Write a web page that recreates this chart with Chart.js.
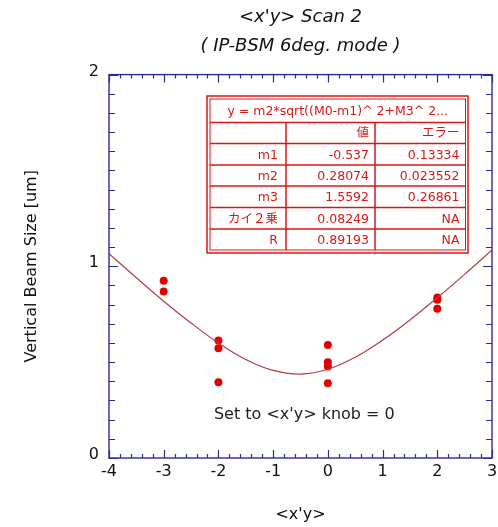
<!DOCTYPE html>
<html>
<head>
<meta charset="utf-8">
<script src="https://cdn.jsdelivr.net/npm/chart.js@4"></script>
<style>
  html, body { margin: 0; padding: 0; background: #fff; }
  #wrap { width: 498px; height: 527px; }
</style>
</head>
<body>
<div id="wrap"><canvas id="scan-chart"></canvas></div>
<script>
// measured beam size
var measX = [-3, -3, -2, -2, -2, 0, 0, 0, 0, 2, 2, 2];
var measY = [0.925, 0.868, 0.613, 0.573, 0.395, 0.590, 0.500, 0.477, 0.390, 0.837, 0.825, 0.778];

// fitted curve
var fitX = [-4, -3.5, -3, -2.5, -2, -1.5, -1, -0.5, 0, 0.5, 1, 1.5, 2, 2.5, 3];
var fitY = [1.066, 0.940, 0.818, 0.704, 0.600, 0.514, 0.457, 0.438, 0.463, 0.526, 0.615, 0.720, 0.836, 0.958, 1.085];

var xTicks = [-4, -3, -2, -1, 0, 1, 2, 3];
var yTicks = [0, 1, 2];

// fit result table
var fitTitle = "y = m2*sqrt((M0-m1)^ 2+M3^ 2...";
var fitHeader = ["", "値", "エラー"];
var fitNames = ["m1", "m2", "m3", "カイ２乗", "R"];
var fitValues = ["-0.537", "0.28074", "1.5592", "0.08249", "0.89193"];
var fitErrors = ["0.13334", "0.023552", "0.26861", "NA", "NA"];

var frameColor = "#2b2b95";
var tableRed = "#d81818";
var cjkFont = "'DejaVu Sans', 'Noto Sans CJK JP', sans-serif";

function toPoints(xs, ys) {
  var pts = [];
  for (var i = 0; i < xs.length; i++) pts.push({x: xs[i], y: ys[i]});
  return pts;
}

// frame + inward ticks on all four sides
var framePlugin = {
  id: 'frame',
  afterDatasetsDraw: function(chart) {
    var ctx = chart.ctx, a = chart.chartArea;
    var xs = chart.scales.x, ys = chart.scales.y;
    ctx.save();
    ctx.strokeStyle = frameColor;
    ctx.lineWidth = 1.4;
    ctx.strokeRect(a.left, a.top, a.right - a.left, a.bottom - a.top);
    ctx.lineWidth = 1.2;
    ctx.beginPath();
    for (var i = 0; i <= 35; i++) {
      var v = -4 + i * 0.2;
      var px = Math.round(xs.getPixelForValue(v)) + 0.5;
      var len = (i % 5 === 0) ? 8 : 4;
      ctx.moveTo(px, a.bottom); ctx.lineTo(px, a.bottom - len);
      ctx.moveTo(px, a.top); ctx.lineTo(px, a.top + len);
    }
    for (var j = 0; j <= 20; j++) {
      var w = j * 0.1;
      var py = Math.round(ys.getPixelForValue(w)) + 0.5;
      var l2 = (j % 10 === 0) ? 9 : 6;
      ctx.moveTo(a.left, py); ctx.lineTo(a.left + l2, py);
      ctx.moveTo(a.right, py); ctx.lineTo(a.right - l2, py);
    }
    ctx.stroke();
    ctx.restore();
  }
};

// fit table and note
var notePlugin = {
  id: 'note',
  afterDraw: function(chart) {
    var ctx = chart.ctx;
    var xs = chart.scales.x, ys = chart.scales.y;
    ctx.save();

    ctx.fillStyle = "#222";
    ctx.font = "16px 'DejaVu Sans', sans-serif";
    ctx.textAlign = "center";
    ctx.textBaseline = "middle";
    ctx.fillText("Set to <x'y> knob = 0", xs.getPixelForValue(-0.43), ys.getPixelForValue(0.225));

    var L = 207, T = 96, R = 468, B = 253;
    var iL = 210, iT = 99, iR = 465.5, iB = 250;
    var rows = [99, 122.5, 143.5, 165, 186, 207.5, 229, 250];
    var cols = [210, 286, 375, 465.5];
    ctx.fillStyle = "#fff";
    ctx.fillRect(L, T, R - L, B - T);
    ctx.strokeStyle = tableRed;
    ctx.lineWidth = 1.5;
    ctx.strokeRect(L, T, R - L, B - T);
    ctx.lineWidth = 1;
    ctx.strokeRect(iL, iT, iR - iL, iB - iT);
    ctx.lineWidth = 1.5;
    ctx.beginPath();
    for (var r = 1; r < rows.length - 1; r++) {
      ctx.moveTo(iL, rows[r]); ctx.lineTo(iR, rows[r]);
    }
    ctx.moveTo(cols[1], rows[1]); ctx.lineTo(cols[1], iB);
    ctx.moveTo(cols[2], rows[1]); ctx.lineTo(cols[2], iB);
    ctx.stroke();

    ctx.fillStyle = tableRed;
    ctx.font = "12.5px " + cjkFont;
    ctx.textBaseline = "middle";
    ctx.textAlign = "center";
    ctx.fillText(fitTitle, (iL + iR) / 2, (rows[0] + rows[1]) / 2 + 1);
    ctx.textAlign = "right";
    var cy = (rows[1] + rows[2]) / 2 + 1;
    ctx.fillText(fitHeader[1], cols[2] - 6, cy);
    ctx.fillText(fitHeader[2], cols[3] - 6, cy);
    for (var k = 0; k < fitNames.length; k++) {
      var y = (rows[k + 2] + rows[k + 3]) / 2 + 1;
      ctx.fillText(fitNames[k], cols[1] - 8, y);
      ctx.fillText(fitValues[k], cols[2] - 6, y);
      ctx.fillText(fitErrors[k], cols[3] - 6, y);
    }
    ctx.restore();
  }
};

var ctx = document.getElementById("scan-chart").getContext("2d");
window.scanChart = new Chart(ctx, {
  type: 'scatter',
  data: {
    datasets: [{
      label: 'fit',
      type: 'line',
      data: toPoints(fitX, fitY),
      borderColor: "rgb(180,60,70)",
      borderWidth: 1.2,
      pointRadius: 0,
      tension: 0.4,
      fill: false
    }, {
      label: 'data',
      data: toPoints(measX, measY),
      backgroundColor: "#e00000",
      borderColor: "#e00000",
      pointRadius: 4,
      borderWidth: 0
    }]
  },
  options: {
    responsive: true,
    maintainAspectRatio: false,
    animation: false,
    layout: { padding: { left: 0, right: 6, top: 0, bottom: 0 } },
    plugins: {
      legend: { display: false },
      tooltip: { enabled: false },
      title: {
        display: true,
        fullSize: false,
        text: ["<x'y> Scan 2", "( IP-BSM 6deg. mode )"],
        color: "#111",
        font: { family: "'DejaVu Sans', sans-serif", size: 18, style: 'italic', weight: 'normal', lineHeight: 1.6 },
        padding: { top: 3, bottom: 14 }
      }
    },
    scales: {
      x: {
        type: 'linear',
        min: -4, max: 3,
        grid: { display: false, drawTicks: false },
        border: { display: false },
        afterBuildTicks: function(s) { s.ticks = xTicks.map(function(v) { return {value: v}; }); },
        afterFit: function(s) { s.height = 69; s.paddingLeft = 0; s.paddingRight = 0; },
        ticks: { color: "#111", padding: 4, font: { family: "'DejaVu Sans', sans-serif", size: 16 } },
        title: {
          display: true, text: "<x'y>", color: "#111",
          font: { family: "'DejaVu Sans', sans-serif", size: 16 },
          padding: { top: 0, bottom: 3 }
        }
      },
      y: {
        min: 0, max: 2,
        grid: { display: false, drawTicks: false },
        border: { display: false },
        afterBuildTicks: function(s) { s.ticks = yTicks.map(function(v) { return {value: v}; }); },
        afterFit: function(s) { s.width = 109; s.paddingTop = 0; s.paddingBottom = 0; },
        ticks: { color: "#111", padding: 10, labelOffset: -3, font: { family: "'DejaVu Sans', sans-serif", size: 16 } },
        title: {
          display: true, text: "Vertical Beam Size [um]", color: "#111",
          font: { family: "'DejaVu Sans', sans-serif", size: 16 },
          padding: { top: 22, bottom: 0 }
        }
      }
    }
  },
  plugins: [framePlugin, notePlugin]
});
</script>
</body>
</html>
